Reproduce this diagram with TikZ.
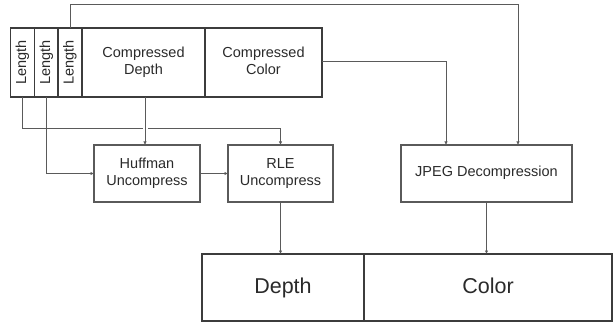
\documentclass[tikz,border=0pt]{standalone}
\usepackage{fontspec}
\setmainfont{Liberation Sans}
\usetikzlibrary{arrows.meta}
\definecolor{ink}{HTML}{2A2A2A}
\definecolor{wire}{HTML}{5A5A5A}
\definecolor{frame}{HTML}{3C3C3C}
\begin{document}
\begin{tikzpicture}[x=1pt,y=-1pt,
  every node/.style={text=ink, font=\fontsize{14.5}{17}\selectfont, align=center, inner sep=0pt, outer sep=0pt},
  cell/.style={draw=frame, line width=1.5pt, minimum height=69pt},
  lencell/.style={cell, minimum width=24pt},
  lenlabel/.style={rotate=90, text height=10pt, text depth=3pt},
  block/.style={draw=wire, line width=1.2pt, minimum height=57pt},
  outcell/.style={draw=frame, line width=1.5pt, minimum height=67pt, text height=16pt, text depth=5pt, font=\fontsize{21.5}{25}\selectfont},
  conn/.style={draw=wire, line width=0.9pt, -{Latex[length=3.5pt,width=3.5pt]}}]
\useasboundingbox (0,0) rectangle (613,326);

% packed input record
\node[lencell] (len1) at (22.5,62.5) {};
\node[lencell] (len2) at (46.5,62.5) {};
\node[lencell] (len3) at (70,62.5) {};
\node[lenlabel] at (len1.center) {Length};
\node[lenlabel] at (len2.center) {Length};
\node[lenlabel] at (len3.center) {Length};
\node[cell, minimum width=123pt] (cdepth) at (143.5,62.5) {\strut Compressed\\Depth\strut};
\node[cell, minimum width=117pt] (ccolor) at (263.5,62.5) {\strut Compressed\\Color\strut};

% decoding stages
\node[block, minimum width=106pt] (huff) at (147,173.5) {\strut Huffman\\Uncompress\strut};
\node[block, minimum width=105pt] (rle) at (280.5,173.5) {\strut RLE\\Uncompress\strut};
\node[block, minimum width=171pt] (jpeg) at (486.5,173.5) {\strut JPEG Decompression\strut};

% decoded output
\node[outcell, minimum width=162pt] (depth) at (283,287.5) {Depth};
\node[outcell, minimum width=248pt] (color) at (488,287.5) {Color};

% connectors
\coordinate (topturn) at (70,4);
\draw[conn] (len3.north) -- (topturn) -| ([xshift=31.5pt]jpeg.north);
\draw[conn] (ccolor.east |- 0,61) -| ([xshift=-40.5pt]jpeg.north);
\coordinate (lenrow) at (22.5,128);
\draw[conn] (len1.south) -- (lenrow) -| (rle.north);
\draw[white, line width=5pt] ([yshift=-6pt]145,128) -- ([yshift=6pt]145,128);
\draw[conn] (cdepth.south -| 145,0) -- (huff.north -| 145,0);
\draw[conn] (len2.south) |- (huff.west);
\draw[conn] (huff.east) -- (rle.west);
\draw[conn] (rle.south) -- (rle.south |- depth.north);
\draw[conn] (jpeg.south) -- (jpeg.south |- color.north);
\end{tikzpicture}
\end{document}
